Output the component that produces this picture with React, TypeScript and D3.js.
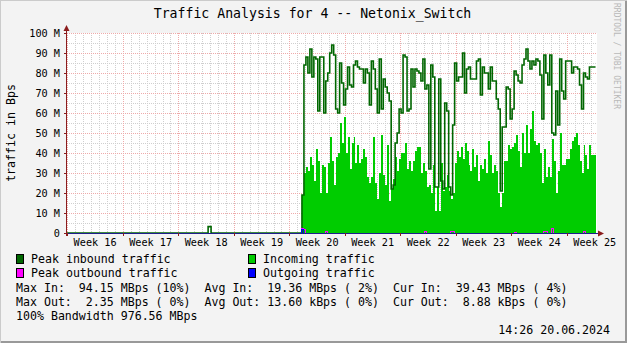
import React from 'react';
import * as d3 from 'd3';

const W = 627;
const H = 343;
const FONT = '"DejaVu Sans Mono", monospace';

const title = 'Traffic Analysis for 4 -- Netonix_Switch';
const yAxisTitle = 'traffic in Bps';
const sideText = 'RRDTOOL / TOBI OETIKER';

const yTickValues = [0, 10, 20, 30, 40, 50, 60, 70, 80, 90, 100];
const yTickLabels = ['0', '10 M', '20 M', '30 M', '40 M', '50 M', '60 M', '70 M', '80 M', '90 M', '100 M'];
const weekLabels = ['Week 16', 'Week 17', 'Week 18', 'Week 19', 'Week 20', 'Week 21', 'Week 22', 'Week 23', 'Week 24', 'Week 25'];
const weekStarts = ['2024-04-15', '2024-04-22', '2024-04-29', '2024-05-06', '2024-05-13', '2024-05-20', '2024-05-27', '2024-06-03', '2024-06-10', '2024-06-17'];

const timeStart = '2024-04-14T23:00:00Z';
const timeEnd = '2024-06-20T18:50:00Z';
const nowTime = '2024-06-20T14:26:00Z';
const dataStart = '2024-05-14T14:00:00Z';
const stepHours = 6;

// early (mostly idle) period: times, peak inbound, incoming (MBps)
const earlyTimes = ['2024-04-14T23:00:00Z', '2024-05-02T18:00:00Z', '2024-05-03T03:00:00Z'];
const earlyPeakIn = [0, 3.2, 0];
const earlyIn = [0, 0, 0];

// Incoming traffic (average), MBps, one value per step from dataStart
const incoming = [
  19, 30, 33, 31, 38, 34, 26, 42, 36, 20, 34, 33, 20, 35, 48, 36, 24, 38, 40, 55,
  45, 58, 40, 48, 32, 45, 48, 35, 44, 35, 37, 42, 38, 28, 25, 28, 48, 25, 17, 30,
  49, 29, 24, 44, 16, 22, 27, 38, 31, 37, 40, 40, 45, 32, 36, 31, 36, 41, 43, 43,
  30, 35, 31, 23, 24, 20, 34, 11, 23, 11, 35, 21, 23, 29, 21, 17, 20, 35, 41, 38,
  43, 37, 45, 41, 34, 31, 42, 33, 39, 26, 34, 32, 37, 30, 46, 39, 30, 34, 31, 20,
  13, 20, 36, 36, 44, 42, 43, 45, 49, 41, 33, 50, 40, 54, 40, 52, 61, 46, 44, 45,
  40, 25, 42, 28, 33, 28, 47, 36, 20, 31, 50, 34, 34, 37, 37, 42, 46, 48, 50, 44,
  36, 30, 44, 39, 32, 44, 39,
];

// Peak inbound traffic, MBps
const peakIn = [
  19, 84, 88, 80, 92, 78, 88, 87, 61, 88, 88, 60, 76, 80, 90, 94, 89, 62, 60, 85,
  75, 64, 72, 83, 74, 73, 84, 86, 83, 82, 82, 75, 82, 80, 64, 86, 82, 72, 60, 87,
  62, 77, 73, 70, 66, 22, 24, 45, 50, 62, 60, 89, 88, 61, 62, 82, 73, 82, 81, 80,
  76, 87, 72, 74, 32, 84, 78, 23, 23, 77, 26, 22, 65, 61, 23, 19, 54, 85, 76, 78,
  78, 90, 70, 82, 83, 77, 77, 77, 86, 87, 69, 83, 80, 80, 72, 83, 76, 76, 67, 62,
  21, 53, 53, 73, 72, 57, 62, 81, 79, 76, 75, 84, 87, 92, 86, 82, 86, 84, 87, 86,
  79, 57, 89, 80, 74, 89, 50, 49, 71, 54, 87, 71, 67, 86, 86, 86, 80, 83, 83, 82,
  74, 62, 80, 78, 77, 83, 83,
];

// Peak outbound spikes (step index, MBps) and outgoing (step index, MBps)
const peakOutIdx = [0, 1, 12, 62, 75, 76, 107, 122, 123, 126, 142];
const peakOutVal = [2.35, 2.0, 0.8, 0.7, 0.6, 0.6, 0.5, 0.7, 0.7, 2.2, 0.7];
const outIdx = [0];
const outVal = [1.8];

const legendNames = ['Peak inbound traffic', 'Incoming traffic', 'Peak outbound traffic', 'Outgoing traffic'];
const legendColors = ['#006600', '#00CC00', '#FF00FF', '#0000FF'];

const statsRows = [
  'Max In:  94.15 MBps (10%)  Avg In:  19.36 MBps ( 2%)  Cur In:  39.43 MBps ( 4%)',
  'Max Out:  2.35 MBps ( 0%)  Avg Out: 13.60 kBps ( 0%)  Cur Out:  8.88 kBps ( 0%)',
  '100% Bandwidth 976.56 MBps',
];
const timestamp = '14:26 20.06.2024';

type Pt = { t: Date; v: number };

export default function App() {
  const X0 = 67, X1 = 597, Y0 = 233, Y1 = 33;
  const x = d3.scaleUtc().domain([new Date(timeStart), new Date(timeEnd)]).range([X0, X1]);
  const y = d3.scaleLinear().domain([0, 100]).range([Y0, Y1]);

  const t0 = +new Date(dataStart);
  const stepMs = stepHours * 3600e3;
  const dataTimes = incoming.map((_, i) => new Date(t0 + i * stepMs));
  const now = new Date(nowTime);
  const n = incoming.length;

  const build = (early: number[], main: number[]): Pt[] => [
    ...earlyTimes.map((t, i) => ({ t: new Date(t), v: early[i] })),
    ...main.map((v, i) => ({ t: dataTimes[i], v })),
    { t: now, v: main[main.length - 1] },
  ];
  const sparse = (idx: number[], val: number[]) => {
    const arr = new Array(n).fill(0);
    idx.forEach((k, j) => (arr[k] = val[j]));
    return arr;
  };

  const inSeries = build(earlyIn, incoming);
  const peakSeries = build(earlyPeakIn, peakIn);
  const zeros = earlyTimes.map(() => 0);
  const peakOutSeries = build(zeros, sparse(peakOutIdx, peakOutVal));
  const outSeries = build(zeros, sparse(outIdx, outVal));

  const area = d3.area<Pt>().x((d) => x(d.t)).y0(Y0).y1((d) => y(d.v)).curve(d3.curveStepAfter);
  const line = d3.line<Pt>().x((d) => x(d.t)).y((d) => y(d.v)).curve(d3.curveStepAfter);

  const days = d3.utcDay.range(new Date(timeStart), new Date(timeEnd));
  const weeks = weekStarts.map((s) => new Date(s + 'T00:00:00Z'));
  const minorY = d3.range(5, 100, 10);

  const axisColor = '#8b1c1c';
  const minorColor = '#cfcfcf';
  const majorColor = '#eeaaaa';

  return (
    <svg width={W} height={H} style={{ position: 'absolute', left: 0, top: 0, fontFamily: FONT }}>
      <rect x={0} y={0} width={W} height={H} fill="#f3f3f3" />
      <path d={`M0,${H} V0 H${W}`} fill="none" stroke="#cbcbcb" strokeWidth={2} />
      <path d={`M1,${H - 1} H${W - 1} V1`} fill="none" stroke="#999999" strokeWidth={2} />
      <rect x={X0} y={Y1} width={X1 - X0} height={Y0 - Y1} fill="#ffffff" />

      {/* minor grid */}
      {days.map((d, i) => (
        <line key={'vd' + i} x1={Math.round(x(d)) + 0.5} x2={Math.round(x(d)) + 0.5} y1={Y1} y2={Y0}
          stroke={minorColor} strokeDasharray="1,1" />
      ))}
      {minorY.map((v) => (
        <line key={'hm' + v} x1={X0} x2={X1} y1={Math.round(y(v)) + 0.5} y2={Math.round(y(v)) + 0.5}
          stroke={minorColor} strokeDasharray="1,1" />
      ))}
      {/* major grid */}
      {weeks.map((d, i) => (
        <line key={'vw' + i} x1={Math.round(x(d)) + 0.5} x2={Math.round(x(d)) + 0.5} y1={Y1} y2={Y0}
          stroke={majorColor} strokeDasharray="1,1" />
      ))}
      {yTickValues.slice(1).map((v) => (
        <line key={'hM' + v} x1={X0} x2={X1} y1={Math.round(y(v)) + 0.5} y2={Math.round(y(v)) + 0.5}
          stroke={majorColor} strokeDasharray="1,1" />
      ))}

      {/* data */}
      <path d={area(inSeries) || ''} fill="#00CC00" shapeRendering="crispEdges" />
      <path d={line(peakSeries) || ''} fill="none" stroke="#006600" strokeWidth={1.6} />
      <path d={line(peakOutSeries) || ''} fill="none" stroke="#FF00FF" strokeWidth={1} shapeRendering="crispEdges" />
      <path d={line(outSeries) || ''} fill="none" stroke="#0000FF" strokeWidth={1} shapeRendering="crispEdges" />

      {/* axes */}
      <line x1={X0 - 0.5} x2={X0 - 0.5} y1={Y0 + 3} y2={Y1 - 3} stroke={axisColor} strokeWidth={1} />
      <line x1={X0 - 3} x2={X1 + 1} y1={Y0 + 0.5} y2={Y0 + 0.5} stroke="#1e1e8c" strokeWidth={1} />
      {yTickValues.map((v) => (
        <line key={'yt' + v} x1={X0 - 3} x2={X0} y1={Math.round(y(v)) + 0.5} y2={Math.round(y(v)) + 0.5}
          stroke={axisColor} />
      ))}
      {weeks.map((d, i) => (
        <line key={'xt' + i} x1={Math.round(x(d)) + 0.5} x2={Math.round(x(d)) + 0.5} y1={Y0} y2={Y0 + 3}
          stroke={axisColor} />
      ))}
      <path d={`M${X0 - 3.5},${Y1 - 2} L${X0 + 2.5},${Y1 - 2} L${X0 - 0.5},${Y1 - 8} Z`} fill={axisColor} />
      <path d={`M${X1 + 1},${Y0 - 2.5} L${X1 + 1},${Y0 + 3.5} L${X1 + 7},${Y0 + 0.5} Z`} fill={axisColor} />

      {/* texts */}
      <text x={312.5} y={18} fontSize={13.2} textAnchor="middle" fill="#000">{title}</text>
      {yTickValues.map((v, i) => (
        <text key={'yl' + v} x={60} y={y(v) + 3.6} fontSize={10.2} textAnchor="end" fill="#000">{yTickLabels[i]}</text>
      ))}
      {weeks.map((d, i) => (
        <text key={'wl' + i} x={x(new Date(+d + 3.5 * 864e5))} y={246} fontSize={10.2} textAnchor="middle" fill="#000"
          style={{ whiteSpace: 'pre' }}>{weekLabels[i]}</text>
      ))}
      <text transform={`translate(15,${(Y0 + Y1) / 2}) rotate(-90)`} fontSize={11.6} textAnchor="middle" fill="#000">{yAxisTitle}</text>
      <text transform={`translate(614,3) rotate(90)`} fontSize={8} fill="#b8b8b8" style={{ whiteSpace: 'pre' }}>{sideText}</text>

      {legendNames.map((name, i) => {
        const col = i % 2;
        const row = Math.floor(i / 2);
        const bx = col === 0 ? 16 : 248;
        const by = 254 + row * 14;
        return (
          <g key={'lg' + i}>
            <rect x={bx + 0.5} y={by + 0.5} width={7} height={9} fill={legendColors[i]} stroke="#000" strokeWidth={1} />
            <text x={bx + 15} y={by + 9} fontSize={11.6} fill="#000" style={{ whiteSpace: 'pre' }}>{name}</text>
          </g>
        );
      })}
      {statsRows.map((s, i) => (
        <text key={'st' + i} x={16} y={291.5 + i * 14} fontSize={11.6} fill="#000" style={{ whiteSpace: 'pre' }}>{s}</text>
      ))}
      <text x={610} y={333.5} fontSize={11.6} textAnchor="end" fill="#000" style={{ whiteSpace: 'pre' }}>{timestamp}</text>
    </svg>
  );
}
